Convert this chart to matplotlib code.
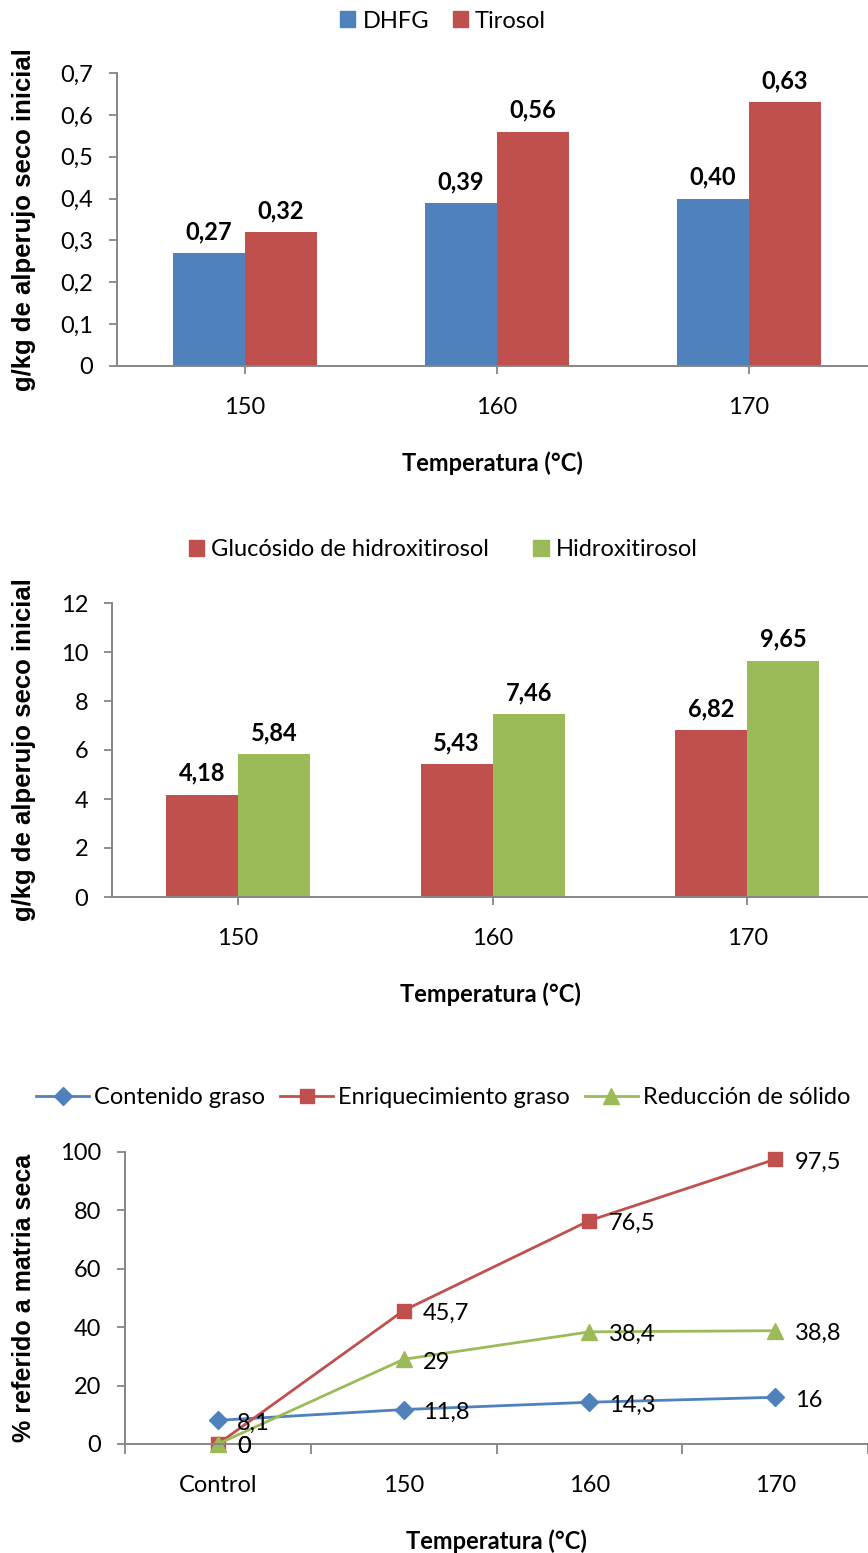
import matplotlib
matplotlib.use("Agg")
import matplotlib.pyplot as plt
from matplotlib.patches import Patch
from matplotlib.lines import Line2D
from matplotlib.ticker import FuncFormatter

# datos
temps = ["150", "160", "170"]
dhfg = [0.27, 0.39, 0.40]
tirosol = [0.32, 0.56, 0.63]
glucosido = [4.18, 5.43, 6.82]
hidroxitirosol = [5.84, 7.46, 9.65]
cats3 = ["Control", "150", "160", "170"]
contenido = [8.1, 11.8, 14.3, 16]
enriquecimiento = [0, 45.7, 76.5, 97.5]
reduccion = [0, 29, 38.4, 38.8]

AZUL = "#4F81BD"
ROJO = "#C0504D"
VERDE = "#9BBB59"
GRIS = "#868686"
FUENTE = ["Lato", "DejaVu Sans"]
FUENTE_Y = ["Liberation Sans", "DejaVu Sans"]
FS = 17

plt.rcParams["font.family"] = FUENTE

W, H = 868, 1553
fig = plt.figure(figsize=(W / 100, H / 100), dpi=100)


def coma(v, dec=None):
    if dec is None:
        s = ("%g" % v)
    else:
        s = ("%." + str(dec) + "f") % v
    return s.replace(".", ",")


def ejes(left, top, bottom, right=W):
    return fig.add_axes([left / W, 1 - bottom / H, (right - left) / W, (bottom - top) / H])


def estilo(ax):
    for s in ["top", "right"]:
        ax.spines[s].set_visible(False)
    for s in ["left", "bottom"]:
        ax.spines[s].set_color(GRIS)
        ax.spines[s].set_linewidth(1.4)
    ax.tick_params(axis="both", colors=GRIS, labelcolor="black", labelsize=FS, length=6, width=1.3)
    ax.tick_params(axis="y", pad=11)
    ax.tick_params(axis="x", pad=16)


def etiquetas(ax, ylabel, alto):
    ax.set_ylabel(ylabel, fontsize=18.5, fontweight="bold", family=FUENTE_Y, va="center")
    ax.yaxis.set_label_coords((24 - 117) / 751, 0.5)
    ax.set_xlabel("Temperatura (°C)", fontsize=FS, fontweight="bold", va="center")
    ax.xaxis.set_label_coords(0.5, -97 / alto)


def valores(ax, bars, vals):
    for r, v in zip(bars, vals):
        ax.annotate(coma(v, 2), (r.get_x() + r.get_width() / 2, v), xytext=(0, 7),
                    textcoords="offset points", ha="center", va="bottom",
                    fontsize=FS, fontweight="bold")


# panel 1: DHFG y Tirosol
ax1 = ejes(117, 73, 366)
x = range(len(temps))
bw = 0.286
b1 = ax1.bar([i - bw / 2 for i in x], dhfg, bw, color=AZUL)
b2 = ax1.bar([i + bw / 2 for i in x], tirosol, bw, color=ROJO)
valores(ax1, b1, dhfg)
valores(ax1, b2, tirosol)
ax1.set_xlim(-0.508, 2.472)
ax1.set_ylim(0, 0.7)
ax1.set_yticks([0, 0.1, 0.2, 0.3, 0.4, 0.5, 0.6, 0.7])
ax1.yaxis.set_major_formatter(FuncFormatter(lambda v, p: coma(round(v, 1))))
ax1.set_xticks(list(x))
ax1.set_xticklabels(temps)
estilo(ax1)
etiquetas(ax1, "g/kg de alperujo seco inicial", 293)
fig.legend(handles=[Patch(color=AZUL, label="DHFG"), Patch(color=ROJO, label="Tirosol")],
           loc="center", bbox_to_anchor=(443 / W, 1 - 21 / H), ncol=2, frameon=False,
           fontsize=FS, handlelength=0.64, handleheight=0.64, handletextpad=0.3,
           columnspacing=1.0, borderpad=0)

# panel 2: glucósido de hidroxitirosol e hidroxitirosol
ax2 = ejes(112, 603, 897)
bw2 = 0.283
c1 = ax2.bar([i - bw2 / 2 for i in x], glucosido, bw2, color=ROJO)
c2 = ax2.bar([i + bw2 / 2 for i in x], hidroxitirosol, bw2, color=VERDE)
valores(ax2, c1, glucosido)
valores(ax2, c2, hidroxitirosol)
ax2.set_xlim(-0.495, 2.475)
ax2.set_ylim(0, 12)
ax2.set_yticks(range(0, 13, 2))
ax2.set_xticks(list(x))
ax2.set_xticklabels(temps)
estilo(ax2)
etiquetas(ax2, "g/kg de alperujo seco inicial", 294)
ax2.yaxis.set_label_coords((24 - 112) / 756, 0.5)
fig.legend(handles=[Patch(color=ROJO, label="Glucósido de hidroxitirosol"),
                    Patch(color=VERDE, label="Hidroxitirosol")],
           loc="center", bbox_to_anchor=(443 / W, 1 - 550 / H), ncol=2, frameon=False,
           fontsize=FS, handlelength=0.64, handleheight=0.64, handletextpad=0.3,
           columnspacing=1.9, borderpad=0)

# panel 3: contenido graso, enriquecimiento y reducción
ax3 = ejes(125, 1152, 1444)
x3 = list(range(len(cats3)))
series = [(contenido, AZUL, "D", "Contenido graso", 9),
          (enriquecimiento, ROJO, "s", "Enriquecimiento graso", 10),
          (reduccion, VERDE, "^", "Reducción de sólido", 11)]
for vals, col, mk, lab, ms in series:
    ax3.plot(x3, vals, color=col, marker=mk, markersize=ms, linewidth=2, label=lab, clip_on=False)
    for i, v in zip(x3, vals):
        ax3.annotate(coma(v), (i, v), xytext=(14, -2), textcoords="offset points",
                     ha="left", va="center", fontsize=FS)
ax3.set_xlim(-0.495, 3.460)
ax3.set_ylim(0, 100)
ax3.set_yticks(range(0, 101, 20))
ax3.set_xticks([i - 0.5 for i in x3] + [3.5])
ax3.set_xticklabels([])
ax3.set_xticks(x3, minor=True)
ax3.set_xticklabels(cats3, minor=True)
estilo(ax3)
ax3.tick_params(axis="x", which="minor", length=0, pad=22, labelsize=FS)
ax3.tick_params(axis="x", which="major", direction="out", length=7)
ax3.set_ylabel("% referido a matria seca", fontsize=18, fontweight="bold", family=FUENTE_Y,
               va="center")
ax3.yaxis.set_label_coords((24 - 125) / 743, 0.5)
ax3.set_xlabel("Temperatura (°C)", fontsize=FS, fontweight="bold", va="center")
ax3.xaxis.set_label_coords(0.5, -97 / 292)
handles = [Line2D([], [], color=c, marker=m, markersize=ms, linewidth=2) for _, c, m, _, ms in series]
fig.legend(handles, [s[3] for s in series], loc="center", bbox_to_anchor=(443 / W, 1 - 1098 / H),
           ncol=3, frameon=False, fontsize=FS, handlelength=2.25, handletextpad=0.2,
           columnspacing=0.64, borderpad=0)

fig.savefig("out.png", dpi=100)
